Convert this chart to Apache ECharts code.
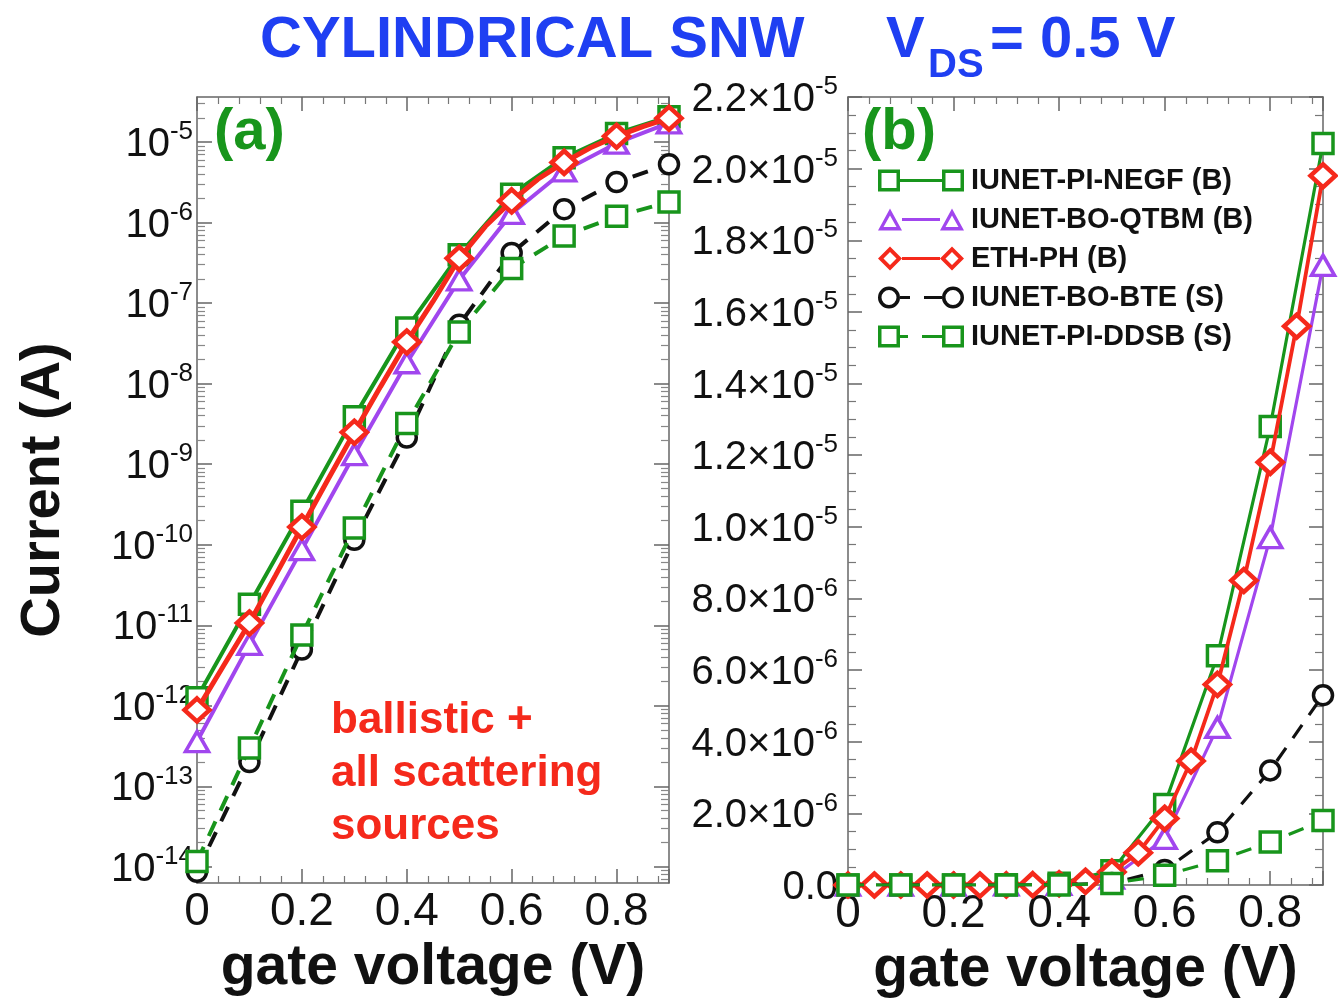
<!DOCTYPE html>
<html><head><meta charset="utf-8">
<script src="https://cdn.jsdelivr.net/npm/echarts@6/dist/echarts.min.js"></script>
<style>html,body{margin:0;padding:0;background:#fff}#c{width:1338px;height:1000px}</style>
</head><body><div id="c"></div>
<script>
// ---------------- data (current in A vs gate voltage in V) ----------------
const gateVoltage = [0, 0.1, 0.2, 0.3, 0.4, 0.5, 0.6, 0.7, 0.8, 0.9];
const gateVoltageFine = [0, 0.05, 0.1, 0.15, 0.2, 0.25, 0.3, 0.35, 0.4, 0.45, 0.5, 0.55, 0.6, 0.65, 0.7, 0.75, 0.8, 0.85, 0.9];
const iunetPiNegf = [1.26e-12, 1.82e-11, 2.6e-10, 3.9e-9, 4.9e-8, 4.0e-7, 2.25e-6, 6.4e-6, 1.28e-5, 2.07e-5];
const iunetBoQtbm = [3.6e-13, 5.8e-12, 8.7e-11, 1.32e-9, 1.82e-8, 1.95e-7, 1.3e-6, 4.4e-6, 9.7e-6, 1.73e-5];
const ethPh = [8.9e-13, 3.1e-12, 1.07e-11, 4.2e-11, 1.66e-10, 6.5e-10, 2.5e-9, 9.2e-9, 3.3e-8, 1.05e-7, 3.6e-7, 9.0e-7, 1.86e-6, 3.46e-6, 5.6e-6, 8.5e-6, 1.18e-5, 1.56e-5, 1.98e-5];
const iunetBoBte = [8.7e-15, 2.0e-13, 5.0e-12, 1.15e-10, 2.14e-9, 5.4e-8, 4.2e-7, 1.47e-6, 3.2e-6, 5.3e-6];
const iunetPiDdsb = [1.17e-14, 3.0e-13, 7.6e-12, 1.62e-10, 3.2e-9, 4.4e-8, 2.7e-7, 6.8e-7, 1.2e-6, 1.8e-6];
const seriesNames = ['IUNET-PI-NEGF (B)', 'IUNET-BO-QTBM (B)', 'ETH-PH (B)', 'IUNET-BO-BTE (S)', 'IUNET-PI-DDSB (S)'];
const logDecadeTicks = [1e-14, 1e-13, 1e-12, 1e-11, 1e-10, 1e-9, 1e-8, 1e-7, 1e-6, 1e-5];

// ---------------- style ----------------
const FONT = 'Liberation Sans';
const GREEN = '#18951c', PURPLE = '#a146ee', RED = '#f5291b', BLACK = '#111111', BLUE = '#1f3ff2';
const FRAME = '#666';

const logMinorTicks = [];
for (let e = -15; e <= -5; e++) for (let k = 2; k <= 9; k++) logMinorTicks.push(k * Math.pow(10, e));

const pairs = (xs, ys) => xs.map((x, i) => [x, ys[i]]);

function mk(idx, xs, ys, panel, o) {
  const colors = [GREEN, PURPLE, RED, BLACK, GREEN];
  const c = colors[idx];
  return {
    type: 'line', name: seriesNames[idx],
    xAxisIndex: panel === 0 ? 0 : 2, yAxisIndex: panel === 0 ? 0 : 4,
    data: pairs(xs, ys),
    symbol: o.symbol, symbolSize: o.size, showAllSymbol: true,
    lineStyle: { color: c, width: o.lw, type: o.dash || 'solid' },
    itemStyle: { color: '#fff', borderColor: c, borderWidth: o.bw },
    emphasis: { disabled: true }, z: o.z, clip: true, animation: false
  };
}

const series = [];
[0, 1].forEach(p => {
  const lw = p === 0 ? 4 : 3.2;
  series.push(mk(0, gateVoltage, iunetPiNegf, p, { symbol: 'rect', size: 20, lw: lw, bw: 3.5, z: 2 }));
  series.push(mk(1, gateVoltage, iunetBoQtbm, p, { symbol: 'triangle', size: [23, 20], lw: lw, bw: 3.5, z: 3 }));
  series.push(mk(2, gateVoltageFine, ethPh, p, {
    symbol: p === 0 ? (v, prm) => (prm.dataIndex % 2 ? 'none' : 'diamond') : 'diamond',
    size: [25, 23], lw: p === 0 ? 5 : 3.8, bw: 4.5, z: 4 }));
  series.push(mk(3, gateVoltage, iunetBoBte, p, { symbol: 'circle', size: 19, lw: lw, bw: 3.5, z: 5, dash: [16, 12] }));
  series.push(mk(4, gateVoltage, iunetPiDdsb, p, { symbol: 'rect', size: 20, lw: lw, bw: 3.5, z: 6, dash: [16, 12] }));
});

function xAxis(grid, pos, labels) {
  return {
    type: 'value', gridIndex: grid, position: pos, min: 0, max: 0.9, interval: 0.2,
    axisLine: { show: true, onZero: false, lineStyle: { color: FRAME, width: 1.5 } },
    axisTick: { show: true, inside: true, length: 14, lineStyle: { color: FRAME, width: 1.5 } },
    minorTick: { show: true, splitNumber: 5, length: 7, lineStyle: { color: '#777', width: 1.2 } },
    splitLine: { show: false },
    axisLabel: { show: labels, showMaxLabel: false, fontSize: 46, color: BLACK, fontFamily: FONT, margin: 6,
      formatter: v => String(Math.round(v * 10) / 10) },
    name: labels ? 'gate voltage (V)' : '', nameLocation: 'middle', nameGap: 52,
    nameTextStyle: { fontSize: 57, fontWeight: 'bold', color: BLACK, fontFamily: FONT }
  };
}

const LOGMIN = Math.pow(10, -14.2), LOGMAX = Math.pow(10, -4.44);
function logAxis(pos, major, labels) {
  return {
    type: 'log', logBase: 10, gridIndex: 0, position: pos, min: LOGMIN, max: LOGMAX,
    axisLine: { show: major, onZero: false, lineStyle: { color: FRAME, width: 1.5 } },
    axisTick: { show: true, inside: true, length: major ? 15 : 8,
      customValues: major ? logDecadeTicks : logMinorTicks,
      lineStyle: { color: major ? FRAME : '#888', width: major ? 1.5 : 1.2 } },
    minorTick: { show: false }, splitLine: { show: false },
    axisLabel: labels ? {
      show: true, customValues: logDecadeTicks, margin: 4,
      formatter: v => '{b|10}{s|' + Math.round(Math.log10(v)) + '}',
      rich: {
        b: { fontSize: 40, fontFamily: FONT, color: BLACK, verticalAlign: 'bottom', lineHeight: 46 },
        s: { fontSize: 26, fontFamily: FONT, color: BLACK, verticalAlign: 'top', lineHeight: 26 }
      }
    } : { show: false },
    name: labels ? 'Current (A)' : '', nameLocation: 'middle', nameGap: 125, nameRotate: 90,
    nameTextStyle: { fontSize: 56, fontWeight: 'bold', color: BLACK, fontFamily: FONT }
  };
}

function linAxis(pos, labels) {
  return {
    type: 'value', gridIndex: 1, position: pos, min: 0, max: 2.2e-5, interval: 2e-6,
    axisLine: { show: true, onZero: false, lineStyle: { color: FRAME, width: 1.5 } },
    axisTick: { show: true, inside: true, length: 14, lineStyle: { color: FRAME, width: 1.5 } },
    minorTick: { show: true, splitNumber: 4, length: 8, lineStyle: { color: '#777', width: 1.2 } },
    splitLine: { show: false },
    axisLabel: labels ? {
      show: true, margin: 10,
      formatter: v => {
        if (Math.abs(v) < 1e-12) return '{b|0.0}';
        const e = Math.floor(Math.log10(v) + 1e-9);
        const m = v / Math.pow(10, e);
        return '{b|' + m.toFixed(1) + '×10}{s|' + e + '}';
      },
      rich: {
        b: { fontSize: 40, fontFamily: FONT, color: BLACK, verticalAlign: 'bottom', lineHeight: 46 },
        s: { fontSize: 26, fontFamily: FONT, color: BLACK, verticalAlign: 'top', lineHeight: 26 }
      }
    } : { show: false }
  };
}

// legend icons: two hollow markers joined by a line (86 x 24 box)
const sq = x0 => `M${x0} 1 L${x0 + 22} 1 L${x0 + 22} 23 L${x0} 23 Z M${x0 + 3.5} 4.5 L${x0 + 3.5} 19.5 L${x0 + 18.5} 19.5 L${x0 + 18.5} 4.5 Z`;
const tri = x0 => `M${x0} 23 L${x0 + 12} 1 L${x0 + 24} 23 Z M${x0 + 5.5} 19.5 L${x0 + 18.5} 19.5 L${x0 + 12} 8 Z`;
const dia = x0 => `M${x0 + 12} 0 L${x0 + 24} 12 L${x0 + 12} 24 L${x0} 12 Z M${x0 + 12} 5.5 L${x0 + 5.5} 12 L${x0 + 12} 18.5 L${x0 + 18.5} 12 Z`;
const cir = x0 => `M${x0} 12 A11 11 0 1 1 ${x0 + 22} 12 A11 11 0 1 1 ${x0} 12 Z M${x0 + 3.5} 12 A7.5 7.5 0 1 0 ${x0 + 18.5} 12 A7.5 7.5 0 1 0 ${x0 + 3.5} 12 Z`;
const seg = (a, b) => `M${a} 10.5 L${b} 10.5 L${b} 13.5 L${a} 13.5 Z`;
const legendIcons = [
  'path://' + sq(0) + ' ' + seg(22, 64) + ' ' + sq(64),
  'path://' + tri(0) + ' ' + seg(24, 62) + ' ' + tri(62),
  'path://' + dia(0) + ' ' + seg(24, 62) + ' ' + dia(62),
  'path://' + cir(0) + ' ' + seg(22, 32) + ' ' + seg(46, 64) + ' ' + cir(64),
  'path://' + sq(0) + ' ' + seg(22, 30) + ' ' + seg(44, 64) + ' ' + sq(64)
];
const legendColors = [GREEN, PURPLE, RED, BLACK, GREEN];

const option = {
  backgroundColor: '#fff',
  animation: false,
  title: [
    { text: 'CYLINDRICAL SNW', left: 260, top: 12, padding: 0, textStyle: { fontSize: 58, fontWeight: 'bold', color: BLUE, fontFamily: FONT } },
    { text: 'V', left: 886, top: 12, padding: 0, textStyle: { fontSize: 58, fontWeight: 'bold', color: BLUE, fontFamily: FONT } },
    { text: 'DS', left: 928, top: 46, padding: 0, textStyle: { fontSize: 40, fontWeight: 'bold', color: BLUE, fontFamily: FONT } },
    { text: '= 0.5 V', left: 990, top: 12, padding: 0, textStyle: { fontSize: 58, fontWeight: 'bold', color: BLUE, fontFamily: FONT } }
  ],
  grid: [
    { left: 197, top: 97, width: 472, height: 786, outerBoundsMode: 'none', containLabel: false },
    { left: 848, top: 97, width: 475, height: 788, outerBoundsMode: 'none', containLabel: false }
  ],
  xAxis: [xAxis(0, 'bottom', true), xAxis(0, 'top', false), xAxis(1, 'bottom', true), xAxis(1, 'top', false)],
  yAxis: [logAxis('left', true, true), logAxis('left', false, false), logAxis('right', true, false), logAxis('right', false, false),
          linAxis('left', true), linAxis('right', false)],
  legend: {
    show: true, orient: 'vertical', left: 878, top: 166, itemWidth: 86, itemHeight: 24, itemGap: 10,
    selectedMode: false, padding: 0,
    textStyle: { fontSize: 29, fontWeight: 'bold', color: BLACK, fontFamily: FONT, padding: [0, 0, 0, 2] },
    data: seriesNames.map((n, i) => ({ name: n, icon: legendIcons[i], itemStyle: { color: legendColors[i], borderWidth: 0 } }))
  },
  graphic: [
    { type: 'text', left: 214, top: 104, z: 100, style: { text: '(a)', fontSize: 58, fontWeight: 'bold', fontFamily: FONT, fill: GREEN } },
    { type: 'text', left: 862, top: 104, z: 100, style: { text: '(b)', fontSize: 58, fontWeight: 'bold', fontFamily: FONT, fill: GREEN } },
    { type: 'text', left: 331, top: 694, z: 100, style: { text: 'ballistic +\nall scattering\nsources', fontSize: 44, lineHeight: 53, fontWeight: 'bold', fontFamily: FONT, fill: RED } }
  ],
  series: series
};

const chart = echarts.init(document.getElementById('c'), null, { renderer: 'canvas' });
chart.setOption(option);
</script>
</body></html>
